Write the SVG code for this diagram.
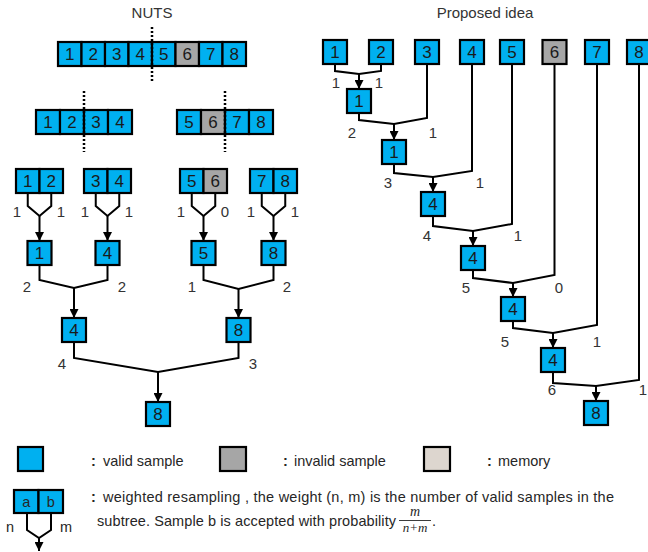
<svg xmlns="http://www.w3.org/2000/svg" width="648" height="552" viewBox="0 0 648 552">
  <defs>
    <marker id="arrow" viewBox="0 0 10 10" refX="10" refY="5" markerWidth="9" markerHeight="9" markerUnits="userSpaceOnUse" orient="auto">
      <path d="M0,0 L10,5 L0,10 z" fill="#000"/>
    </marker>
    <style>
      .v { fill: #00b0f0; stroke: #000; stroke-width: 2.2; }
      .iv { fill: #a6a6a6; stroke: #000; stroke-width: 2.2; }
      .mem { fill: #ddd6cf; stroke: #000; stroke-width: 2.2; }
      .d { font-family: "Liberation Sans", Arial, sans-serif; font-size: 17px; fill: #1a1a1a; text-anchor: middle; }
      .lbl { font-family: "Liberation Sans", Arial, sans-serif; font-size: 15px; fill: #333; text-anchor: middle; }
      .ttl { font-family: "Liberation Sans", Arial, sans-serif; font-size: 15px; fill: #333; text-anchor: middle; }
      .leg { font-family: "Liberation Sans", Arial, sans-serif; font-size: 14.5px; fill: #262626; }
      .colon { font-weight: bold; }
      .wire { fill: none; stroke: #000; stroke-width: 2; stroke-linejoin: miter; }
      .arr { fill: none; stroke: #000; stroke-width: 2; marker-end: url(#arrow); }
      .dot { fill: none; stroke: #000; stroke-width: 2.5; stroke-dasharray: 2 2; }
      .frac { font-family: "Liberation Serif", "Times New Roman", serif; font-style: italic; fill: #262626; text-anchor: middle; }
    </style>
  </defs>

  <!-- titles -->
  <text class="ttl" x="152" y="18">NUTS</text>
  <text class="ttl" x="485" y="18">Proposed idea</text>

  <!-- NUTS: full trajectory of 8 samples -->
  <g id="nuts-traj8">
    <rect class="v" x="58" y="42" width="23.5" height="24"/>
    <rect class="v" x="81.5" y="42" width="23.5" height="24"/>
    <rect class="v" x="105" y="42" width="23.5" height="24"/>
    <rect class="v" x="128.5" y="42" width="23.5" height="24"/>
    <rect class="v" x="152" y="42" width="23.5" height="24"/>
    <rect class="iv" x="175.5" y="42" width="23.5" height="24"/>
    <rect class="v" x="199" y="42" width="23.5" height="24"/>
    <rect class="v" x="222.5" y="42" width="23.5" height="24"/>
    <text class="d" x="69.75" y="60">1</text>
    <text class="d" x="93.25" y="60">2</text>
    <text class="d" x="116.75" y="60">3</text>
    <text class="d" x="140.25" y="60">4</text>
    <text class="d" x="163.75" y="60">5</text>
    <text class="d" x="187.25" y="60">6</text>
    <text class="d" x="210.75" y="60">7</text>
    <text class="d" x="234.25" y="60">8</text>
  </g>

  <!-- NUTS: two halves -->
  <g id="nuts-half-left">
    <rect class="v" x="36" y="110" width="24" height="24"/>
    <rect class="v" x="60" y="110" width="24" height="24"/>
    <rect class="v" x="84" y="110" width="24" height="24"/>
    <rect class="v" x="108" y="110" width="24" height="24"/>
    <text class="d" x="48" y="128">1</text>
    <text class="d" x="72" y="128">2</text>
    <text class="d" x="96" y="128">3</text>
    <text class="d" x="120" y="128">4</text>
  </g>
  <g id="nuts-half-right">
    <rect class="v" x="177" y="110" width="24" height="24"/>
    <rect class="iv" x="201" y="110" width="24" height="24"/>
    <rect class="v" x="225" y="110" width="24" height="24"/>
    <rect class="v" x="249" y="110" width="24" height="24"/>
    <text class="d" x="189" y="128">5</text>
    <text class="d" x="213" y="128">6</text>
    <text class="d" x="237" y="128">7</text>
    <text class="d" x="261" y="128">8</text>
  </g>

  <!-- NUTS: pairs -->
  <g id="nuts-pair-12">
    <rect class="v" x="16" y="169" width="23.5" height="24"/>
    <rect class="v" x="39.5" y="169" width="23.5" height="24"/>
    <text class="d" x="27.75" y="187">1</text>
    <text class="d" x="51.25" y="187">2</text>
  </g>
  <g id="nuts-pair-34">
    <rect class="v" x="84" y="169" width="23.5" height="24"/>
    <rect class="v" x="107.5" y="169" width="23.5" height="24"/>
    <text class="d" x="95.75" y="187">3</text>
    <text class="d" x="119.25" y="187">4</text>
  </g>
  <g id="nuts-pair-56">
    <rect class="v" x="180" y="169" width="23.5" height="24"/>
    <rect class="iv" x="203.5" y="169" width="23.5" height="24"/>
    <text class="d" x="191.75" y="187">5</text>
    <text class="d" x="215.25" y="187">6</text>
  </g>
  <g id="nuts-pair-78">
    <rect class="v" x="250" y="169" width="23.5" height="24"/>
    <rect class="v" x="273.5" y="169" width="23.5" height="24"/>
    <text class="d" x="261.75" y="187">7</text>
    <text class="d" x="285.25" y="187">8</text>
  </g>

  <!-- NUTS: resampled nodes -->
  <g id="nuts-n1"><rect class="v" x="27.5" y="241" width="24" height="24"/><text class="d" x="39.5" y="259">1</text></g>
  <g id="nuts-n4a"><rect class="v" x="95.5" y="241" width="24" height="24"/><text class="d" x="107.5" y="259">4</text></g>
  <g id="nuts-n5"><rect class="v" x="191.5" y="241" width="24" height="24"/><text class="d" x="203.5" y="259">5</text></g>
  <g id="nuts-n8a"><rect class="v" x="261.5" y="241" width="24" height="24"/><text class="d" x="273.5" y="259">8</text></g>
  <g id="nuts-n4b"><rect class="v" x="62" y="318" width="24" height="24"/><text class="d" x="74" y="336">4</text></g>
  <g id="nuts-n8b"><rect class="v" x="226.5" y="318" width="24" height="24"/><text class="d" x="238.5" y="336">8</text></g>
  <g id="nuts-n8c"><rect class="v" x="146" y="402" width="24" height="24"/><text class="d" x="158" y="420">8</text></g>

  <!-- Proposed idea: samples -->
  <g id="pi-s1"><rect class="v" x="323" y="40" width="24" height="24"/><text class="d" x="335" y="58">1</text></g>
  <g id="pi-s2"><rect class="v" x="369" y="40" width="24" height="24"/><text class="d" x="381" y="58">2</text></g>
  <g id="pi-s3"><rect class="v" x="415" y="40" width="24" height="24"/><text class="d" x="427" y="58">3</text></g>
  <g id="pi-s4"><rect class="v" x="460" y="40" width="24" height="24"/><text class="d" x="472" y="58">4</text></g>
  <g id="pi-s5"><rect class="v" x="500" y="40" width="24" height="24"/><text class="d" x="512" y="58">5</text></g>
  <g id="pi-s6"><rect class="iv" x="542.5" y="40" width="24" height="24"/><text class="d" x="554.5" y="58">6</text></g>
  <g id="pi-s7"><rect class="v" x="585" y="40" width="24" height="24"/><text class="d" x="597" y="58">7</text></g>
  <g id="pi-s8"><rect class="v" x="627" y="40" width="24" height="24"/><text class="d" x="639" y="58">8</text></g>

  <!-- Proposed idea: running resampled sample -->
  <g id="pi-r1"><rect class="v" x="347" y="89" width="24" height="24"/><text class="d" x="359" y="107">1</text></g>
  <g id="pi-r2"><rect class="v" x="382" y="140" width="24" height="24"/><text class="d" x="394" y="158">1</text></g>
  <g id="pi-r3"><rect class="v" x="421" y="192" width="24" height="24"/><text class="d" x="433" y="210">4</text></g>
  <g id="pi-r4"><rect class="v" x="461" y="246" width="24" height="24"/><text class="d" x="473" y="264">4</text></g>
  <g id="pi-r5"><rect class="v" x="501" y="297" width="24" height="24"/><text class="d" x="513" y="315">4</text></g>
  <g id="pi-r6"><rect class="v" x="541" y="348" width="24" height="24"/><text class="d" x="553" y="366">4</text></g>
  <g id="pi-r7"><rect class="v" x="584" y="401" width="24" height="24"/><text class="d" x="596" y="419">8</text></g>

  <!-- connectors -->
  <g id="connectors">
    <!-- tree splits -->
    <line class="dot" x1="152" y1="27" x2="152" y2="82"/>
    <line class="dot" x1="84" y1="91" x2="84" y2="152"/>
    <line class="dot" x1="225" y1="91" x2="225" y2="152"/>

    <!-- NUTS level 1 -->
    <polyline class="wire" points="27.75,193 27.75,206 39.5,216 51.25,206 51.25,193"/>
    <line class="arr" x1="39.5" y1="216" x2="39.5" y2="241"/>
    <polyline class="wire" points="95.75,193 95.75,206 107.5,216 119.25,206 119.25,193"/>
    <line class="arr" x1="107.5" y1="216" x2="107.5" y2="241"/>
    <polyline class="wire" points="191.75,193 191.75,206 203.5,216 215.25,206 215.25,193"/>
    <line class="arr" x1="203.5" y1="216" x2="203.5" y2="241"/>
    <polyline class="wire" points="261.75,193 261.75,206 273.5,216 285.25,206 285.25,193"/>
    <line class="arr" x1="273.5" y1="216" x2="273.5" y2="241"/>

    <!-- NUTS level 2 -->
    <polyline class="wire" points="39.5,265 39.5,280 74,288 107.5,280 107.5,265"/>
    <line class="arr" x1="74" y1="288" x2="74" y2="318"/>
    <polyline class="wire" points="203.5,265 203.5,280 238.5,289 273.5,280 273.5,265"/>
    <line class="arr" x1="238.5" y1="289" x2="238.5" y2="318"/>

    <!-- NUTS level 3 -->
    <polyline class="wire" points="74,342 74,358 158,372 238.5,358 238.5,342"/>
    <line class="arr" x1="158" y1="372" x2="158" y2="402"/>

    <!-- Proposed idea: sequential merges -->
    <polyline class="wire" points="335,64 335,71 359,74 381,71 381,64"/>
    <line class="arr" x1="359" y1="74" x2="359" y2="89"/>
    <polyline class="wire" points="359,113 359,120 394,124 427,118 427,64"/>
    <line class="arr" x1="394" y1="124" x2="394" y2="140"/>
    <polyline class="wire" points="394,164 394,173 433,177 472,171 472,64"/>
    <line class="arr" x1="433" y1="177" x2="433" y2="192"/>
    <polyline class="wire" points="433,216 433,226 473,231 512,224 512,64"/>
    <line class="arr" x1="473" y1="231" x2="473" y2="246"/>
    <polyline class="wire" points="473,270 473,278 513,283 554.5,275 554.5,64"/>
    <line class="arr" x1="513" y1="283" x2="513" y2="297"/>
    <polyline class="wire" points="513,321 513,328 553,333 597,325 597,64"/>
    <line class="arr" x1="553" y1="333" x2="553" y2="348"/>
    <polyline class="wire" points="553,372 553,383 596,386 639,380 639,64"/>
    <line class="arr" x1="596" y1="386" x2="596" y2="401"/>
  </g>

  <!-- weights -->
  <g id="weights">
    <text class="lbl" x="17" y="217">1</text>
    <text class="lbl" x="61" y="217">1</text>
    <text class="lbl" x="85" y="217">1</text>
    <text class="lbl" x="129" y="217">1</text>
    <text class="lbl" x="181" y="217">1</text>
    <text class="lbl" x="225" y="217">0</text>
    <text class="lbl" x="251" y="217">1</text>
    <text class="lbl" x="295" y="217">1</text>
    <text class="lbl" x="27" y="292">2</text>
    <text class="lbl" x="122" y="292">2</text>
    <text class="lbl" x="192" y="292">1</text>
    <text class="lbl" x="287" y="292">2</text>
    <text class="lbl" x="62" y="369">4</text>
    <text class="lbl" x="253" y="369">3</text>

    <text class="lbl" x="336" y="88">1</text>
    <text class="lbl" x="379" y="88">1</text>
    <text class="lbl" x="352" y="138">2</text>
    <text class="lbl" x="433" y="138">1</text>
    <text class="lbl" x="388" y="188">3</text>
    <text class="lbl" x="480" y="188">1</text>
    <text class="lbl" x="427" y="241">4</text>
    <text class="lbl" x="518" y="241">1</text>
    <text class="lbl" x="466" y="293">5</text>
    <text class="lbl" x="559" y="293">0</text>
    <text class="lbl" x="505" y="347">5</text>
    <text class="lbl" x="597" y="347">1</text>
    <text class="lbl" x="552" y="395">6</text>
    <text class="lbl" x="643" y="395">1</text>
  </g>

  <!-- legend -->
  <g id="legend-valid">
    <rect class="v" x="18" y="447" width="25" height="24"/>
    <text class="leg" y="466"><tspan class="colon" x="91">:</tspan><tspan x="103">valid sample</tspan></text>
  </g>
  <g id="legend-invalid">
    <rect class="iv" x="220" y="447" width="26" height="24"/>
    <text class="leg" y="466"><tspan class="colon" x="283">:</tspan><tspan x="294">invalid sample</tspan></text>
  </g>
  <g id="legend-memory">
    <rect class="mem" x="424" y="447" width="26" height="24"/>
    <text class="leg" y="466"><tspan class="colon" x="487">:</tspan><tspan x="498">memory</tspan></text>
  </g>
  <g id="legend-resample">
    <rect class="v" x="14" y="490" width="24.5" height="23"/>
    <rect class="v" x="38.5" y="490" width="24.5" height="23"/>
    <text class="leg" x="26.25" y="507" text-anchor="middle">a</text>
    <text class="leg" x="50.75" y="507" text-anchor="middle">b</text>
    <polyline class="wire" points="27,513 27,530 39,538 51,530 51,513"/>
    <line class="arr" x1="39" y1="538" x2="39" y2="551"/>
    <text class="leg" x="10" y="532" text-anchor="middle">n</text>
    <text class="leg" x="66" y="532" text-anchor="middle">m</text>
    <text class="leg" y="502"><tspan class="colon" x="91">:</tspan><tspan x="103" textLength="511" lengthAdjust="spacing">weighted resampling , the weight (n, m) is the number of valid samples in the</tspan></text>
    <text class="leg" x="97" y="526" textLength="299" lengthAdjust="spacing">subtree. Sample b is accepted with probability</text>
    <text class="frac" x="415" y="516" font-size="14">m</text>
    <line x1="399" y1="520.5" x2="431" y2="520.5" stroke="#262626" stroke-width="0.9"/>
    <text class="frac" x="415" y="532" font-size="13">n+m</text>
    <text class="leg" x="432" y="526">.</text>
  </g>
</svg>
